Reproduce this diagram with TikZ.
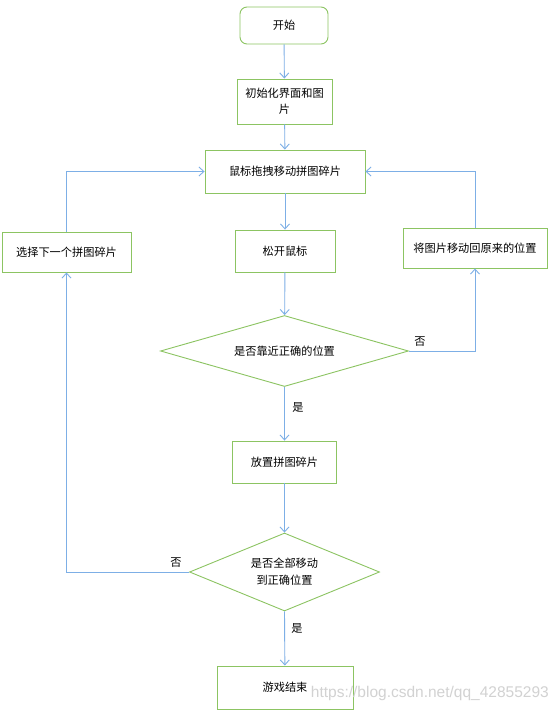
\documentclass[tikz,border=0pt]{standalone}
\usepackage{fontspec}
\newfontfamily\cjk{Noto Sans CJK SC}
\newfontfamily\wmfont{Liberation Sans}
\usetikzlibrary{arrows.meta,shapes.geometric}
\definecolor{boxgreen}{RGB}{140,196,98}
\definecolor{linkblue}{RGB}{125,175,230}
\definecolor{wmgray}{RGB}{210,210,210}
\tikzset{
  box/.style={draw=boxgreen,line width=0.9pt,fill=white,inner sep=0pt,align=center,font=\cjk\fontsize{11.2}{16}\selectfont},
  roundbox/.style={box,rounded corners=7pt},
  decision/.style={draw=boxgreen,line width=0.9pt,diamond,inner sep=0pt,align=center,font=\cjk\fontsize{11.2}{17}\selectfont},
  link/.style={draw=linkblue,line width=0.9pt,-{Straight Barb[length=5pt,width=9pt]}},
  lbl/.style={font=\cjk\fontsize{11.2}{13}\selectfont,inner sep=0pt}
}
\begin{document}
\begin{tikzpicture}[x=1pt,y=-1pt]
\useasboundingbox (0,0) rectangle (554,712);
\fill[white] (0,0) rectangle (554,712);
\node[roundbox,minimum width=88pt,minimum height=37pt] (start) at (284,25.5) {开始};
\node[box,minimum width=95pt,minimum height=45pt] (init) at (284.5,101.5) {初始化界面和图\\片};
\node[box,minimum width=160pt,minimum height=43pt] (drag) at (285,171.5) {鼠标拖拽移动拼图碎片};
\node[box,minimum width=129pt,minimum height=40pt] (select) at (66.5,252) {选择下一个拼图碎片};
\node[box,minimum width=100pt,minimum height=42pt] (release) at (285,251) {松开鼠标};
\node[box,minimum width=144pt,minimum height=40pt] (back) at (475,248) {将图片移动回原来的位置};
\node[decision,shape aspect=3.5,minimum width=248pt,minimum height=71pt] (d1) at (284.5,351) {是否靠近正确的位置};
\node[box,minimum width=104pt,minimum height=42pt] (place) at (284.5,462) {放置拼图碎片};
\node[decision,shape aspect=2.44,minimum width=190pt,minimum height=78pt] (d2) at (284.5,572) {是否全部移动\\到正确位置};
\node[box,minimum width=136pt,minimum height=43pt] (end) at (285,687.5) {游戏结束};

\draw[link] (start) -- (init);
\draw[link] (init) -- (drag);
\draw[link] (drag) -- (release);
\draw[link] (release) -- (d1);
\draw[link] (d1.east) -| (back.south);
\draw[link] (back.north) |- (drag.east);
\draw[link] (d1.south) -- (place);
\draw[link] (place) -- (d2);
\draw[link] (d2.west) -| (select.south);
\draw[link] (select.north) |- (drag.west);
\draw[link] (d2.south) -- (end);

\node[lbl] (no1) at (420,342) {否};
\node[lbl] (yes1) at (298,407) {是};
\node[lbl] (no2) at (176,563) {否};
\node[lbl] (yes2) at (297,628) {是};

\node[font=\wmfont\fontsize{15.5}{18}\selectfont,text=wmgray,anchor=east,inner sep=0pt] (wm) at (549,693) {https://blog.csdn.net/qq\_42855293};
\end{tikzpicture}
\end{document}
